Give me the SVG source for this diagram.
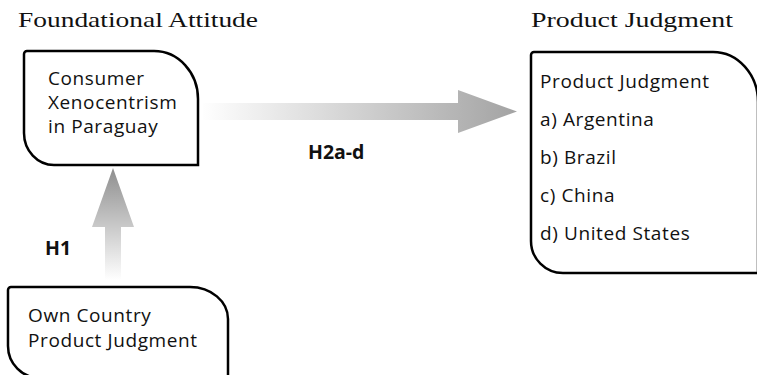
<svg xmlns="http://www.w3.org/2000/svg" width="757" height="375" viewBox="0 0 757 375">
<defs>
<linearGradient id="gh" gradientUnits="userSpaceOnUse" x1="200" y1="0" x2="517" y2="0">
<stop offset="0" stop-color="#ffffff"/>
<stop offset="1" stop-color="#a3a3a3"/>
</linearGradient>
<linearGradient id="gv" gradientUnits="userSpaceOnUse" x1="0" y1="280" x2="0" y2="168">
<stop offset="0" stop-color="#ffffff"/>
<stop offset="1" stop-color="#8e8e8e"/>
</linearGradient>
</defs>
<style>
.box{fill:#fff;stroke:#000;stroke-width:2.5}
.title{font-family:"Liberation Serif",serif;font-size:22px;fill:#111}
.t{font-family:"Open Sans","Liberation Sans",sans-serif;font-size:19px;letter-spacing:0.6px;fill:#111}
.lbl{font-family:"Open Sans","Liberation Sans",sans-serif;font-size:19.5px;font-weight:bold;fill:#111}
</style>
<text class="title" x="18" y="27" textLength="240" lengthAdjust="spacingAndGlyphs">Foundational Attitude</text>
<text class="title" x="531" y="27" textLength="202" lengthAdjust="spacingAndGlyphs">Product Judgment</text>
<g id="connectors">
<path d="M203,103 H458 V90 L517,111.5 L458,133 V120 H203 Z" fill="url(#gh)"/>
<path d="M105,280 V227 H92 L113,168 L134,227 H121 V280 Z" fill="url(#gv)"/>
<text class="lbl" x="308" y="159">H2a-d</text>
<text class="lbl" x="45" y="255">H1</text>
</g>
<g id="xenocentrism">
<path class="box" d="M27,51 H154 A44 48 0 0 1 198 99 V165 H54 A30 32 0 0 1 24 133 V54 A3 3 0 0 1 27 51 Z"/>
<text class="t" x="48" y="85">Consumer</text>
<text class="t" x="48" y="109">Xenocentrism</text>
<text class="t" x="48" y="133">in Paraguay</text>
</g>
<g id="own-country">
<path class="box" d="M11,287 H190 A38 32 0 0 1 228 319 V378 H40 A32 32 0 0 1 8 346 V290 A3 3 0 0 1 11 287 Z"/>
<text class="t" x="28" y="322">Own Country</text>
<text class="t" x="28" y="347">Product Judgment</text>
</g>
<g id="product-judgment">
<path class="box" d="M534,52 H713 A45 50 0 0 1 758 102 V273 H563 A32 32 0 0 1 531 241 V55 A3 3 0 0 1 534 52 Z"/>
<text class="t" x="540" y="88">Product Judgment</text>
<text class="t" x="540" y="126">a) Argentina</text>
<text class="t" x="540" y="164">b) Brazil</text>
<text class="t" x="540" y="202">c) China</text>
<text class="t" x="540" y="240">d) United States</text>
</g>
</svg>
